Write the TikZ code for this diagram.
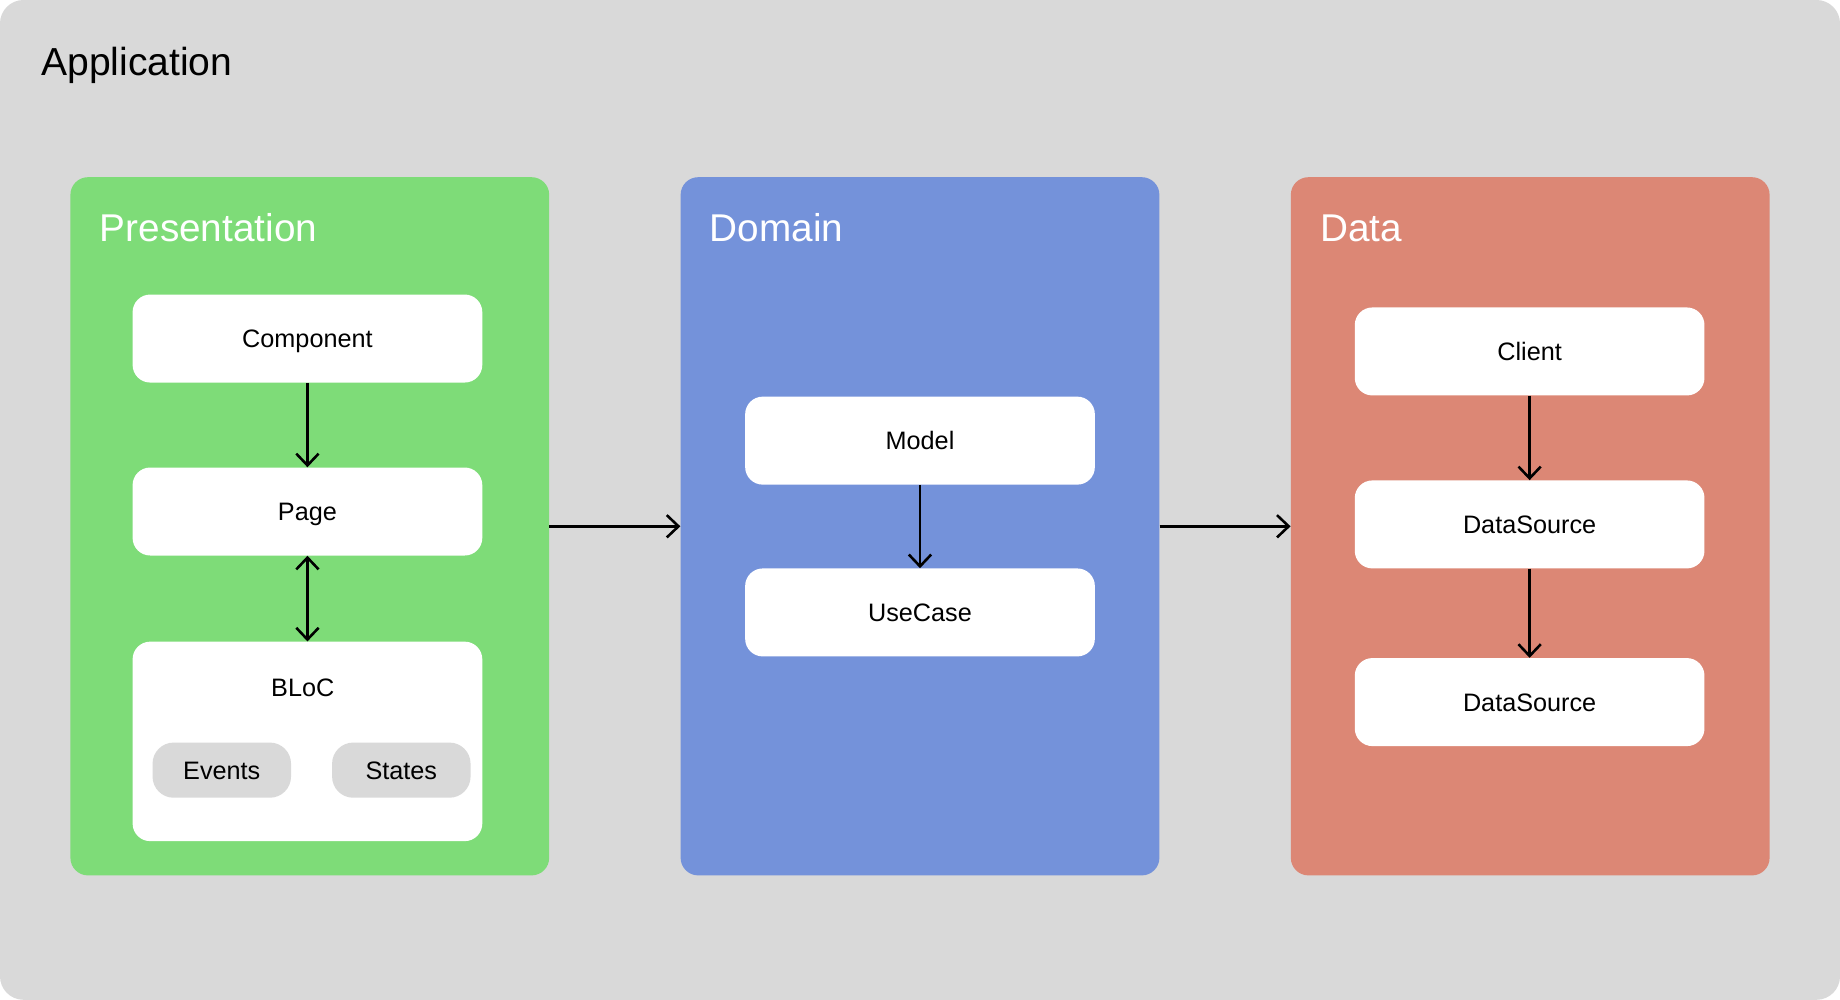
\documentclass[tikz,border=0pt]{standalone}
\usepackage{fontspec}
\setmainfont{Liberation Sans}
\usepackage{tikz}
\usetikzlibrary{positioning,arrows.meta}
\definecolor{appgray}{HTML}{D9D9D9}
\definecolor{presgreen}{HTML}{7EDC78}
\definecolor{domblue}{HTML}{7492DA}
\definecolor{datared}{HTML}{DC8775}

\begin{document}
\begin{tikzpicture}[x=1pt, y=1pt,
layer/.style={rounded corners=15pt, minimum width=408pt, minimum height=595pt, inner sep=0pt},
block/.style={fill=white, rounded corners=15pt, minimum width=298pt, minimum height=75pt, inner sep=0pt, text height=15.4pt, text depth=0pt, font=\fontsize{21.5}{26}\selectfont},
chip/.style={fill=appgray, rounded corners=18pt, minimum width=118pt, minimum height=47pt, inner sep=0pt, text height=15.4pt, text depth=0pt, font=\fontsize{21.5}{26}\selectfont},
title/.style={text=white, anchor=base west, inner sep=0pt, font=\fontsize{33}{39}\selectfont},
link/.style={-{Straight Barb[length=10pt, width=19pt]}, line width=2.2pt},
twoway/.style={{Straight Barb[length=10pt, width=19pt]}-{Straight Barb[length=10pt, width=19pt]}, line width=2.2pt},
]
\useasboundingbox (0,0) rectangle (1568,852);

%Application
\node[fill=appgray, rounded corners=20pt, minimum width=1568pt, minimum height=852pt, inner sep=0pt] (app) at (784,426) {};
\node[anchor=base west, inner sep=0pt, font=\fontsize{33.3}{39}\selectfont] (app_title) at (35,788) {Application};

%Layers
\node[layer, fill=presgreen] (pres) at (264,403.5) {};
\node[layer, fill=domblue] (dom) at (784,403.5) {};
\node[layer, fill=datared] (data) at (1304,403.5) {};
\node[title] (pres_title) at ([xshift=25pt, yshift=-55pt]pres.north west) {Presentation};
\node[title] (dom_title) at ([xshift=25pt, yshift=-55pt]dom.north west) {Domain};
\node[title] (data_title) at ([xshift=25pt, yshift=-55pt]data.north west) {Data};

%Presentation
\node[block] (component) at (262,563.5) {Component};
\node[block] (page) [below=72pt of component] {Page};
\node[block, minimum height=170pt] (bloc) [below=73pt of page] {};
\node[inner sep=0pt, text height=15.4pt, text depth=0pt, font=\fontsize{21.5}{26}\selectfont] (bloc_label) at ([xshift=-4pt, yshift=-39pt]bloc.north) {BLoC};
\node[chip, anchor=south west] (events) at ([xshift=17pt, yshift=37pt]bloc.south west) {Events};
\node[chip, anchor=south east] (states) at ([xshift=-10pt, yshift=37pt]bloc.south east) {States};

%Domain
\node[block] (model) at (784,476.5) {Model};
\node[block] (usecase) [below=71pt of model] {UseCase};

%Data
\node[block] (client) at (1303.5,552.5) {Client};
\node[block] (source1) [below=72pt of client] {DataSource};
\node[block] (source2) [below=76pt of source1] {DataSource};

%Draw lines
\draw[link] (component.south) -- (page.north);
\draw[twoway] (page.south) -- (bloc.north);
\draw[link] (model.south) -- (usecase.north);
\draw[link] (client.south) -- (source1.north);
\draw[link] (source1.south) -- (source2.north);

%Layer connections
\draw[link] (pres.east) -- (dom.west);
\draw[link] (dom.east) -- (data.west);
\end{tikzpicture}
\end{document}
